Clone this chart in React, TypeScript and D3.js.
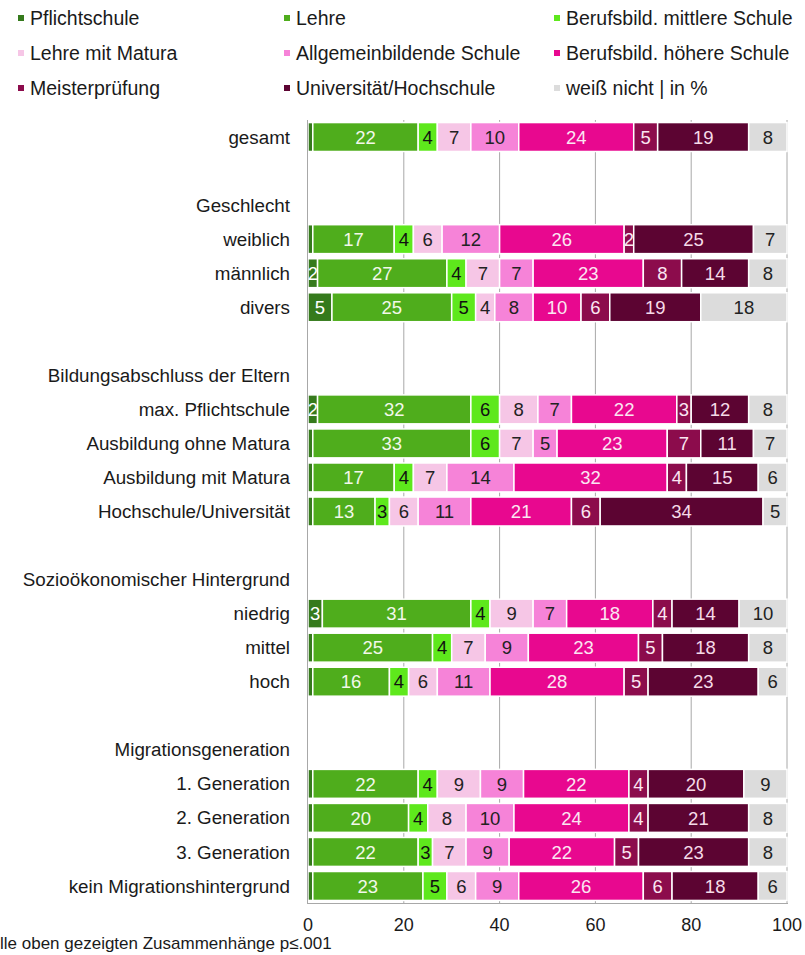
import React, { useEffect, useRef } from "react";
import * as d3 from "d3";

// series (legend order)
const series = [
  "Pflichtschule",
  "Lehre",
  "Berufsbild. mittlere Schule",
  "Lehre mit Matura",
  "Allgemeinbildende Schule",
  "Berufsbild. höhere Schule",
  "Meisterprüfung",
  "Universität/Hochschule",
  "weiß nicht | in %",
];
const colors = ["#357a1c", "#4fad1c", "#5ee81c", "#f6c6e6", "#f683d8", "#e8088f", "#8c0c4c", "#5c0432", "#dcdcdc"];
const labelColors = ["#ffffff", "#f2f8ea", "#111111", "#222222", "#222222", "#fbe6f2", "#fbe6f2", "#f6dbe8", "#222222"];

// rows: "" = empty spacer, headers have no values
const rows = [
  "gesamt", "", "Geschlecht", "weiblich", "männlich", "divers", "",
  "Bildungsabschluss der Eltern", "max. Pflichtschule", "Ausbildung ohne Matura",
  "Ausbildung mit Matura", "Hochschule/Universität", "",
  "Sozioökonomischer Hintergrund", "niedrig", "mittel", "hoch", "",
  "Migrationsgeneration", "1. Generation", "2. Generation", "3. Generation",
  "kein Migrationshintergrund",
];

const gesamt = [1, 22, 4, 7, 10, 24, 5, 19, 8];
const weiblich = [1, 17, 4, 6, 12, 26, 2, 25, 7];
const maennlich = [2, 27, 4, 7, 7, 23, 8, 14, 8];
const divers = [5, 25, 5, 4, 8, 10, 6, 19, 18];
const maxPflicht = [2, 32, 6, 8, 7, 22, 3, 12, 8];
const ohneMatura = [1, 33, 6, 7, 5, 23, 7, 11, 7];
const mitMatura = [1, 17, 4, 7, 14, 32, 4, 15, 6];
const hochschule = [1, 13, 3, 6, 11, 21, 6, 34, 5];
const niedrig = [3, 31, 4, 9, 7, 18, 4, 14, 10];
const mittel = [1, 25, 4, 7, 9, 23, 5, 18, 8];
const hoch = [1, 16, 4, 6, 11, 28, 5, 23, 6];
const gen1 = [1, 22, 4, 9, 9, 22, 4, 20, 9];
const gen2 = [1, 20, 4, 8, 10, 24, 4, 21, 8];
const gen3 = [1, 22, 3, 7, 9, 22, 5, 23, 8];
const keinMig = [1, 23, 5, 6, 9, 26, 6, 18, 6];

const dataRows: [string, number[]][] = [
  ["gesamt", gesamt],
  ["weiblich", weiblich],
  ["männlich", maennlich],
  ["divers", divers],
  ["max. Pflichtschule", maxPflicht],
  ["Ausbildung ohne Matura", ohneMatura],
  ["Ausbildung mit Matura", mitMatura],
  ["Hochschule/Universität", hochschule],
  ["niedrig", niedrig],
  ["mittel", mittel],
  ["hoch", hoch],
  ["1. Generation", gen1],
  ["2. Generation", gen2],
  ["3. Generation", gen3],
  ["kein Migrationshintergrund", keinMig],
];

const ticks = [0, 20, 40, 60, 80, 100];
const footnote = "lle oben gezeigten Zusammenhänge p≤.001";

const App = () => {
  const ref = useRef<SVGSVGElement>(null);
  const width = 805;
  const height = 955;
  const font = "'Liberation Sans', Arial, sans-serif";

  useEffect(() => {
    const svg = d3.select(ref.current);
    svg.selectAll("*").remove();

    const x = d3.scaleLinear().domain([0, 100]).range([308, 787]);
    const y = d3
      .scaleBand()
      .domain(rows.map((r, i) => i + ""))
      .range([120, 903])
      .paddingInner(0.15)
      .paddingOuter(0.075);

    // legend
    const leg = svg.append("g");
    series.forEach((s, i) => {
      const col = i % 3;
      const row = Math.floor(i / 3);
      const lx = [21, 287, 557][col];
      const ly = 18 + row * 35;
      leg.append("rect").attr("x", lx - 3).attr("y", ly - 3).attr("width", 6).attr("height", 6).attr("fill", colors[i]);
      leg
        .append("text")
        .attr("x", lx + 9)
        .attr("y", ly)
        .attr("dy", "0.35em")
        .attr("font-family", font)
        .attr("font-size", 19.5)
        .attr("fill", "#1a1a1a")
        .text(s);
    });

    // grid
    svg
      .append("g")
      .selectAll("line")
      .data(ticks.slice(1))
      .enter()
      .append("line")
      .attr("x1", (d) => x(d))
      .attr("x2", (d) => x(d))
      .attr("y1", 120)
      .attr("y2", 903)
      .attr("stroke", "#a8a8a8")
      .attr("stroke-width", 1);

    // row labels
    svg
      .append("g")
      .selectAll("text")
      .data(rows.map((r, i) => ({ r, i })).filter((d) => d.r !== ""))
      .enter()
      .append("text")
      .attr("x", 290)
      .attr("y", (d) => y(d.i + "")! + y.bandwidth() / 2)
      .attr("dy", "0.35em")
      .attr("text-anchor", "end")
      .attr("font-family", font)
      .attr("font-size", 18.8)
      .attr("fill", "#1a1a1a")
      .text((d) => d.r);

    // bars
    const bars = svg.append("g");
    dataRows.forEach(([name, vals]) => {
      const idx = rows.indexOf(name);
      const by = y(idx + "")!;
      let acc = 0;
      vals.forEach((v, k) => {
        const x0 = acc;
        acc += v;
        bars
          .append("rect")
          .attr("x", x(x0))
          .attr("y", by)
          .attr("width", x(acc) - x(x0))
          .attr("height", y.bandwidth())
          .attr("fill", colors[k])
          .attr("stroke", "#fff")
          .attr("stroke-width", 1.5);
        if (v >= 2) {
          bars
            .append("text")
            .attr("x", (x(x0) + x(acc)) / 2)
            .attr("y", by + y.bandwidth() / 2)
            .attr("dy", "0.36em")
            .attr("text-anchor", "middle")
            .attr("font-family", font)
            .attr("font-size", 18.5)
            .attr("fill", labelColors[k])
            .text(v);
        }
      });
    });

    // axes lines
    svg.append("line").attr("x1", 307.5).attr("x2", 307.5).attr("y1", 120).attr("y2", 903).attr("stroke", "#a8a8a8");
    svg.append("line").attr("x1", 307).attr("x2", 788).attr("y1", 903.5).attr("y2", 903.5).attr("stroke", "#a8a8a8");

    svg
      .append("g")
      .selectAll("text")
      .data(ticks)
      .enter()
      .append("text")
      .attr("x", (d) => x(d))
      .attr("y", 925)
      .attr("dy", "0.35em")
      .attr("text-anchor", "middle")
      .attr("font-family", font)
      .attr("font-size", 18)
      .attr("fill", "#1a1a1a")
      .text((d) => d);

    svg
      .append("text")
      .attr("x", 0)
      .attr("y", 949)
      .attr("font-family", font)
      .attr("font-size", 17)
      .attr("fill", "#1a1a1a")
      .text(footnote);
  }, []);

  return (
    <svg
      ref={ref}
      width={width}
      height={height}
      style={{ position: "absolute", left: 0, top: 0, background: "#fff" }}
    />
  );
};

export default App;
